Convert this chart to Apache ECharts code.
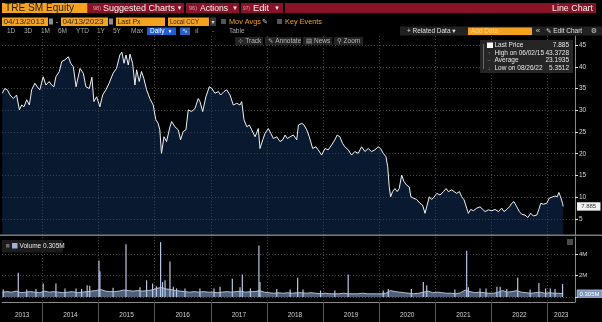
<!DOCTYPE html>
<html><head><meta charset="utf-8">
<script src="https://cdn.jsdelivr.net/npm/echarts@6/dist/echarts.min.js"></script>
<style>html,body{margin:0;padding:0;background:#000;overflow:hidden}#c{width:602px;height:322px}</style>
</head><body><div id="c"></div>
<script>
// ---------- DATA ----------
const priceDates = [
'2013-04-15','2013-05-01','2013-05-18','2013-06-04','2013-06-26','2013-07-17','2013-08-04','2013-08-19','2013-09-03','2013-09-21','2013-10-08','2013-10-23','2013-11-13','2013-11-28','2013-12-15',
'2014-01-06','2014-01-24','2014-02-14','2014-03-02','2014-03-17','2014-03-30','2014-04-21','2014-05-07','2014-05-28','2014-06-19','2014-07-04','2014-07-21','2014-08-08','2014-09-03','2014-09-24','2014-10-11','2014-11-02','2014-11-19','2014-12-02','2014-12-20',
'2015-01-10','2015-01-28','2015-02-18','2015-03-11','2015-04-06','2015-04-28','2015-05-20','2015-06-02','2015-06-16','2015-06-29','2015-07-14','2015-07-25','2015-08-11','2015-08-26','2015-09-06','2015-09-23','2015-10-08','2015-10-23','2015-11-10','2015-12-01','2015-12-23',
'2016-01-09','2016-01-24','2016-02-04','2016-02-15','2016-03-02','2016-03-19','2016-04-10','2016-04-21','2016-05-12','2016-06-03','2016-06-18','2016-07-05','2016-07-23','2016-08-07','2016-08-29','2016-09-20','2016-10-11','2016-10-22','2016-11-09','2016-11-30','2016-12-22',
'2017-01-07','2017-01-28','2017-02-19','2017-03-06','2017-03-28','2017-04-14','2017-05-06','2017-05-27','2017-06-19','2017-07-10','2017-07-21','2017-08-05','2017-08-23','2017-09-09','2017-09-24','2017-10-16','2017-11-06','2017-11-17','2017-12-05','2017-12-20',
'2018-01-10','2018-01-26','2018-02-12','2018-03-06','2018-03-27','2018-04-14','2018-04-29','2018-05-14','2018-06-01','2018-06-22','2018-07-14','2018-07-25','2018-08-16','2018-08-31','2018-09-17','2018-10-04','2018-10-26','2018-11-16','2018-12-01','2018-12-23',
'2019-01-14','2019-02-04','2019-02-26','2019-03-19','2019-04-03','2019-04-21','2019-05-08','2019-05-23','2019-06-14','2019-07-06','2019-07-27','2019-08-18','2019-09-09','2019-10-01','2019-10-22','2019-11-13','2019-12-05','2019-12-26',
'2020-01-11','2020-01-28','2020-02-15','2020-02-26','2020-03-07','2020-03-16','2020-03-29','2020-04-13','2020-04-28','2020-05-11','2020-05-27','2020-06-11','2020-06-28','2020-07-15','2020-07-26','2020-08-10','2020-09-01','2020-09-23','2020-10-10','2020-10-26','2020-11-06','2020-11-23','2020-12-08','2020-12-23',
'2021-01-11','2021-02-01','2021-02-23','2021-03-12','2021-03-27','2021-04-18','2021-05-03','2021-05-20','2021-06-07','2021-06-22','2021-07-07','2021-07-24','2021-08-04','2021-08-19','2021-09-06','2021-09-28','2021-10-19','2021-11-06','2021-11-21','2021-12-12',
'2022-01-04','2022-01-25','2022-02-16','2022-03-09','2022-03-24','2022-04-11','2022-04-28','2022-05-13','2022-05-28','2022-06-15','2022-07-02','2022-07-17','2022-08-08','2022-08-26','2022-09-14','2022-10-01','2022-10-23','2022-11-05','2022-11-18','2022-12-05','2022-12-27',
'2023-01-13','2023-02-05','2023-02-19','2023-03-05','2023-03-16','2023-03-27','2023-04-09','2023-04-13'
];
const priceValues = [
33.9,35.0,34.7,33.5,32.7,33.5,30.1,31.2,30.8,32.4,31.2,34.7,36.2,35.4,34.7,
37.7,35.8,36.6,35.8,35.4,37.7,38.9,41.2,41.6,42.3,40.8,40.0,35.4,39.6,38.5,35.4,35.0,37.6,32.0,33.1,
30.8,33.5,34.7,36.2,38.5,39.6,42.7,43.3728,40.8,42.7,40.4,42.9,40.8,35.8,39.3,36.6,38.9,37.3,34.7,32.7,31.2,
27.8,27.0,25.5,20.1,23.9,22.8,26.2,27.4,26.2,25.5,23.2,25.1,25.5,30.1,29.7,30.4,32.7,32.0,29.7,33.1,35.4,
35.0,33.9,34.3,33.5,34.3,34.7,33.5,31.2,31.6,31.2,32.0,27.8,26.2,26.6,25.5,23.9,25.8,21.2,23.2,24.7,
25.8,24.7,23.5,23.9,22.8,23.2,24.3,23.5,23.9,24.3,23.2,26.6,27.0,26.6,25.5,23.9,21.2,21.6,20.9,19.7,
21.2,20.9,22.0,23.2,24.3,23.9,22.4,21.6,20.9,19.7,20.5,20.1,21.6,20.5,21.2,20.5,20.9,21.6,
21.2,20.1,19.3,17.0,12.4,10.1,11.3,12.0,11.3,12.0,15.1,13.6,12.8,12.4,10.1,9.8,9.5,8.6,8.2,6.3,7.8,10.1,9.5,10.0,
10.9,10.5,11.3,12.0,11.3,11.7,11.3,10.9,11.3,10.1,9.4,7.5,6.3,7.2,6.9,7.5,7.8,7.2,6.7,7.1,
6.9,7.2,6.7,7.5,6.7,7.2,7.8,8.6,9.0,7.8,6.7,6.1,5.9,5.3512,6.3,5.7,5.9,7.1,8.6,8.4,8.6,
9.8,10.1,10.3,10.1,11.1,10.1,8.6,7.885
];
// monthly baseline volume (millions), one per month from Apr 2013 to Apr 2023
const volMonthStart = [2013, 4];
const volBaseValues = [
0.45,0.5,0.45,0.55,0.4,0.45,0.5,0.45,0.4,
0.55,0.45,0.5,0.45,0.4,0.45,0.5,0.4,0.45,0.5,0.55,0.6,
0.7,0.55,0.5,0.5,0.55,0.65,0.6,0.55,0.6,0.55,0.6,0.65,
0.8,0.9,0.75,0.7,0.6,0.55,0.5,0.45,0.5,0.45,0.5,0.45,
0.45,0.4,0.45,0.5,0.45,0.5,0.55,0.45,0.5,0.5,0.6,0.45,
0.4,0.35,0.4,0.35,0.4,0.35,0.4,0.4,0.35,0.4,0.35,0.3,
0.35,0.3,0.3,0.3,0.35,0.3,0.3,0.3,0.35,0.3,0.3,0.3,
0.3,0.35,0.6,0.5,0.45,0.4,0.35,0.3,0.35,0.45,0.55,0.4,
0.45,0.4,0.35,0.35,0.3,0.4,0.65,0.5,0.4,0.45,0.4,0.35,
0.35,0.45,0.6,0.45,0.5,0.6,0.45,0.4,0.35,0.4,0.45,0.35,
0.4,0.35,0.35,0.3
];
const spikeDates = [
'2013-04-21','2013-07-28','2013-09-21','2013-11-20','2014-01-06','2014-03-30','2014-05-28','2014-08-08','2014-09-13','2014-10-19','2014-11-05',
'2015-01-04','2015-01-10','2015-04-06','2015-06-29','2015-09-28','2015-11-10','2015-12-19','2016-01-13','2016-02-09','2016-02-22','2016-03-09',
'2016-04-10','2016-05-02','2016-05-23','2016-07-17','2016-10-22','2017-01-22','2017-03-02','2017-05-21','2017-07-10','2017-07-25','2017-09-16',
'2017-11-10','2017-11-17','2018-03-06','2018-06-01','2018-07-20','2018-08-24','2018-12-16','2019-03-19','2019-06-14','2020-01-28','2020-03-01',
'2020-07-29','2020-10-15','2020-11-06','2021-05-08','2021-07-24','2021-08-04','2021-10-19','2021-11-27','2022-02-06','2022-02-27','2022-04-11',
'2022-06-21','2022-09-10','2022-11-06','2022-12-20','2023-01-19','2023-02-19','2023-04-09'
];
const spikeValues = [
0.7,2.25,0.7,0.75,1.25,1.25,0.8,0.8,0.75,1.1,1.05,
3.4,2.4,0.85,4.9,0.9,1.55,1.25,1.0,5.1,1.4,1.55,
3.3,0.95,0.8,0.8,0.8,0.8,0.95,1.7,0.9,2.1,0.8,
4.8,1.4,0.75,0.7,1.8,0.7,0.6,0.6,2.1,0.6,0.75,
0.75,1.4,1.1,0.7,4.3,0.9,0.8,0.8,0.95,0.95,0.75,
1.8,0.7,1.3,0.8,0.8,0.75,1.2
];
const priceTicks = [5,10,15,20,25,30,35,40,45];
const volTicks = [0,2,4];
const volLabelTicks = [2,4];
const yearLabels = ['2013','2014','2015','2016','2017','2018','2019','2020','2021','2022','2023'];
const legendNames = ['Last Price','High on 06/02/15','Average','Low on 08/26/22'];
const legendValues = ['7.885','43.3728','23.1935','5.3512'];
const lastVolume = 0.305;

// ---------- BUILD ----------
const ts = s => { const p = s.split('-'); return Date.UTC(+p[0], +p[1]-1, +p[2]); };
const X_MIN = ts('2013-04-13'), X_MAX = ts('2023-06-29');
const priceData = priceDates.map((d,i)=>[ts(d), priceValues[i]]);
const lastDate = ts(priceDates[priceDates.length-1]);
const volBaseData = volBaseValues.map((v,i)=>{
  let t = Date.UTC(volMonthStart[0], volMonthStart[1]-1+i, 15);
  if (i===0) t = ts(priceDates[0]);
  if (t > lastDate) t = lastDate;
  return [t, v];
});
const spikeData = spikeDates.map((d,i)=>[ts(d), spikeValues[i]]);
const yearBounds = yearLabels.slice(1).map(y => Date.UTC(+y,0,1));
const yearMids = yearLabels.map(y => {
  const a = Math.max(Date.UTC(+y,0,1), X_MIN), b = Math.min(Date.UTC(+y+1,0,1), X_MAX);
  return (a+b)/2;
});

const FONT = '"Liberation Sans","DejaVu Sans",Arial,sans-serif';
const dotted = {color:'#464646', width:1, type:[1,2]};

const chart = echarts.init(document.getElementById('c'), null, {renderer:'canvas'});
const option = {
  backgroundColor:'#000',
  animation:false,
  grid:[{left:2,right:27,top:36,height:199},{left:2,right:27,top:237,height:65}],
  xAxis:[
    {type:'value',gridIndex:0,min:X_MIN,max:X_MAX,
     axisLine:{show:false},axisTick:{show:false,customValues:yearBounds},axisLabel:{show:false},
     splitLine:{show:true,lineStyle:dotted}},
    {type:'value',gridIndex:1,min:X_MIN,max:X_MAX,
     axisLine:{show:true,onZero:false,lineStyle:{color:'#8a8a8a',width:1}},
     axisTick:{show:true,customValues:yearBounds,length:20,lineStyle:{color:'#555'}},
     axisLabel:{show:true,customValues:yearMids,color:'#cfcfcf',fontSize:6.5,fontFamily:FONT,margin:10,
       formatter:v=>String(new Date(v).getUTCFullYear())},
     splitLine:{show:true,lineStyle:dotted}}
  ],
  yAxis:[
    {type:'value',gridIndex:0,position:'right',min:1.32,max:47.07,
     axisLine:{show:true,lineStyle:{color:'#8a8a8a'}},
     axisTick:{show:true,customValues:priceTicks,length:3,lineStyle:{color:'#e0e0e0'}},
     axisLabel:{customValues:priceTicks,color:'#d6d6d6',fontSize:6.5,fontFamily:FONT,margin:4},
     splitLine:{show:true,lineStyle:dotted}},
    {type:'value',gridIndex:1,position:'right',min:-0.465,max:5.58,
     axisLine:{show:true,onZero:false,lineStyle:{color:'#8a8a8a'}},
     axisTick:{show:true,customValues:volTicks,length:3,lineStyle:{color:'#e0e0e0'}},
     axisLabel:{customValues:volLabelTicks,color:'#d6d6d6',fontSize:6,fontFamily:FONT,margin:4,formatter:v=>v+'M'},
     splitLine:{show:true,lineStyle:dotted}}
  ],
  series:[
    {type:'line',xAxisIndex:0,yAxisIndex:0,data:priceData,showSymbol:false,
     lineStyle:{color:'#eef2f7',width:1},areaStyle:{color:'rgba(20,58,110,0.62)',origin:'start'},z:3},
    {type:'line',xAxisIndex:1,yAxisIndex:1,data:volBaseData,showSymbol:false,
     lineStyle:{color:'#d7e1ef',width:0.8},areaStyle:{color:'rgba(120,145,185,0.95)',origin:'auto'},z:3},
    {type:'bar',xAxisIndex:1,yAxisIndex:1,data:spikeData,barWidth:1.2,
     itemStyle:{color:'#b5c7e5'},z:4}
  ]
};
chart.setOption(option);

// ---------- OVERLAY (toolbar, legends, value boxes) ----------
const mctx = document.createElement('canvas').getContext('2d');
function R(x,y,w,h,fill,extra){return Object.assign({type:'rect',shape:{x:x,y:y,width:w,height:h},style:{fill:fill},z:100,silent:true},extra||{});}
function T(x,y,text,fill,size,align,w){
  const font = size+'px '+FONT;
  const el = {type:'text',x:x,y:y,z:101,silent:true,
    style:{text:text,fill:fill,font:font,textAlign:align||'left',textVerticalAlign:'middle'}};
  if (w) { mctx.font = font; const m = mctx.measureText(text).width; if (m>0) el.scaleX = w/m; }
  return el;
}
function L(x1,y1,x2,y2,stroke,w){return {type:'line',z:100,silent:true,shape:{x1:x1,y1:y1,x2:x2,y2:y2},style:{stroke:stroke,lineWidth:w||1}};}

const OR = '#f5a21e', RED = '#8a1226', TX = '#f3f3f3', SUB = '#d5aab0';
const g = [];
// row 1
g.push(R(2,3,85.5,10,OR), T(5,8.5,'TRE SM Equity','#1e1e1e',10,'left',69));
g.push(R(88,3,96,10,RED), T(93,8.5,'98)',SUB,6,'left',8), T(103,8.5,'Suggested Charts',TX,9,'left',72), T(179.5,8.5,'▾','#eee',7,'center'));
g.push(R(186,3,53,10,RED), T(189,8.5,'96)',SUB,6,'left',8), T(200,8.5,'Actions',TX,9,'left',28), T(235,8.5,'▾','#eee',7,'center'));
g.push(R(241,3,42,10,RED), T(243,8.5,'97)',SUB,6,'left',7), T(253,8.5,'Edit',TX,9,'left',16), T(277,8.5,'▾','#eee',7,'center'));
g.push(R(285,3,311,10,RED), T(593,8.5,'Line Chart',TX,9,'right',41));
// row 2
g.push(R(2,17.5,46,8.5,OR), T(3.5,22,'04/13/2013','#2a2a2a',8,'left',41));
g.push(R(49,18.5,4,6,'#8c8c8c'), T(57,21.5,'-','#cccccc',8,'center'));
g.push(R(61,17.5,47,8.5,OR), T(62.5,22,'04/13/2023','#2a2a2a',8,'left',41));
g.push(R(109,18.5,4,6,'#8c8c8c'));
g.push(R(116,17.5,49,8.5,OR), T(117.5,22,'Last Px','#2a2a2a',8,'left',23));
g.push(R(168,17.5,41,8.5,OR), T(170,22,'Local CCY','#2a2a2a',8,'left',29));
g.push(R(210,17.5,6,8.5,'#3a3a3a'), T(213,22,'▾','#ddd',6,'center'));
g.push(R(221,19,5,5,'#555'), T(229,22,'Mov Avgs',OR,7.5,'left',32), T(265,22,'✎','#cccccc',7,'center'));
g.push(R(277,19,5,5,'#555'), T(285,22,'Key Events',OR,7.5,'left',37));
// row 3
[['1D',7],['3D',24],['1M',41],['6M',58],['YTD',76],['1Y',97],['5Y',113],['Max',131]].forEach(a=>g.push(T(a[1],31.5,a[0],'#a9a9a9',6.5)));
g.push(R(147,27.5,29,7.5,'#1f5fd1'), T(150,31.5,'Daily','#ffffff',6.5), T(170,31.5,'▼','#ffffff',5,'center'));
g.push(R(180,27.5,10,7.5,'#2a62c4'), T(185,31.5,'∿','#dce8ff',7,'center'));
g.push(T(195,31.5,'ıl','#a9a9a9',7), T(213,31.5,'·','#a9a9a9',8,'center'), T(229,31.5,'Table','#a9a9a9',6.5));
g.push(R(400,26.5,202,9,'#222222'));
g.push(T(407,31.2,'+ Related Data ▾','#e2e2e2',6.5));
g.push(R(468,27.5,64,7.5,OR), T(471,31.3,'Add Data','#fbd38c',6.5));
g.push(T(538,31,'«','#cccccc',8,'center'), T(546,31.2,'✎ Edit Chart','#e2e2e2',6.5), T(594,31,'⚙','#cccccc',7,'center'));
// row 4 buttons
g.push(R(235,37,28,8,'#232323'), T(238,41,'⊹ Track','#b8b8b8',6.5));
g.push(R(265,37,36,8,'#232323'), T(268,41,'✎ Annotate','#b8b8b8',6.5));
g.push(R(303,37,29,8,'#232323'), T(306,41,'▤ News','#b8b8b8',6.5));
g.push(R(334,37,29,8,'#232323'), T(337,41,'⚲ Zoom','#b8b8b8',6.5));
// price legend
g.push(R(480,40,93,33,'rgba(40,40,40,0.92)'));
g.push(L(483.5,44,483.5,69,'#6a6a6a'));
const ly = [45.3,53,60.7,68.3];
g.push(R(487,42.5,6,5.5,'#ffffff'));
g.push(T(489,53,'↑','#9a9a9a',5.5,'center'), T(489,60.7,'–','#9a9a9a',5.5,'center'), T(489,68.3,'↓','#9a9a9a',5.5,'center'));
legendNames.forEach((n,i)=>{ g.push(T(494.5,ly[i],n,'#e6e6e6',6.5), T(569,ly[i],legendValues[i],'#e6e6e6',6.5,'right')); });
// separator + volume legend
g.push(R(0,234.5,602,1.6,'#7a7a7a'));
g.push(R(2,240,61,12.5,'#1c1c1c'), R(6,244,3.5,3.5,'#6a6a6a'), R(12,243,5.5,5.5,'#9db3d6'), T(19.5,246.2,'Volume '+lastVolume.toFixed(3)+'M','#e6e6e6',6.5));
g.push(R(567,239,6,6,'#4a4a4a'));
// value boxes on the axes
const lastPrice = priceValues[priceValues.length-1];
const py = chart.convertToPixel({yAxisIndex:0}, lastPrice);
const pv = chart.convertToPixel({yAxisIndex:1}, lastVolume);
g.push(R(577,py-4.2,23.5,8.4,'#f2f2f2'), T(588.7,py+0.2,lastPrice.toFixed(3),'#333333',6,'center'));
g.push(R(577,pv-3.8,25,7.6,'#7d95bd',{style:{fill:'#7d95bd',stroke:'#cfd9ea',lineWidth:0.6}}), T(589.5,pv+0.2,lastVolume.toFixed(3)+'M','#ffffff',6,'center'));
chart.setOption({graphic:{elements:g}});
</script>
</body></html>
